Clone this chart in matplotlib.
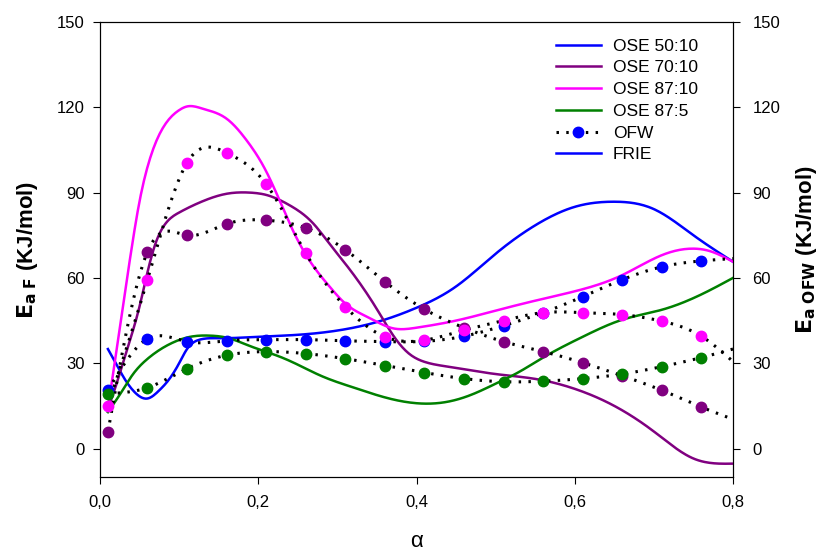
import numpy as np
import matplotlib
matplotlib.use("Agg")
import matplotlib.pyplot as plt
from matplotlib.lines import Line2D

plt.rcParams['font.family'] = ['Liberation Sans', 'DejaVu Sans']

# ---------------- data ----------------
# OSE model curves
x_ose5010 = [0.01, 0.02, 0.03, 0.045, 0.06, 0.075, 0.085, 0.10, 0.11, 0.126, 0.15, 0.20, 0.25, 0.30,
             0.35, 0.40, 0.45, 0.50, 0.55, 0.60, 0.65, 0.70, 0.75, 0.80]
y_ose5010 = [35.0, 30.0, 25.0, 19.5, 17.6, 20.5, 23.5, 30.0, 35.0, 38.3, 38.8, 39.3, 40.0, 41.5,
             44.5, 49.5, 57.0, 68.5, 78.5, 85.0, 86.8, 84.2, 75.0, 65.7]

x_ose7010 = [0.01, 0.02, 0.03, 0.04, 0.05, 0.06, 0.07, 0.08, 0.10, 0.13, 0.16, 0.19, 0.21, 0.24,
             0.27, 0.29, 0.31, 0.33, 0.35, 0.37, 0.39, 0.41, 0.44, 0.50, 0.55, 0.60, 0.65, 0.70,
             0.75, 0.77, 0.80]
y_ose7010 = [14.0, 22.0, 31.0, 40.0, 50.0, 62.0, 72.0, 78.0, 83.0, 87.0, 89.6, 90.0, 89.2, 85.5,
             79.0, 72.0, 65.0, 57.5, 49.0, 40.0, 33.5, 30.5, 28.8, 26.2, 24.5, 21.0, 15.0, 6.0,
             -3.5, -5.0, -5.3]

x_ose8710 = [0.01, 0.02, 0.03, 0.04, 0.05, 0.06, 0.08, 0.10, 0.11, 0.13, 0.16, 0.185, 0.21, 0.225,
             0.245, 0.27, 0.29, 0.31, 0.34, 0.37, 0.40, 0.45, 0.50, 0.55, 0.60, 0.66, 0.71, 0.75,
             0.77, 0.80]
y_ose8710 = [14.0, 33.0, 52.0, 70.5, 87.0, 99.0, 113.0, 119.0, 120.3, 119.5, 116.0, 108.5, 97.5,
             88.5, 76.0, 64.0, 57.0, 51.0, 46.0, 42.3, 42.5, 45.0, 48.5, 52.0, 55.3, 61.0, 68.0,
             70.3, 69.5, 65.7]

x_ose875 = [0.01, 0.029, 0.04, 0.059, 0.09, 0.114, 0.14, 0.16, 0.19, 0.23, 0.25, 0.28, 0.32, 0.36,
            0.41, 0.44, 0.47, 0.50, 0.53, 0.56, 0.61, 0.66, 0.71, 0.76, 0.80]
y_ose875 = [12.8, 20.7, 25.5, 31.3, 37.0, 39.3, 39.7, 39.0, 36.0, 32.0, 29.5, 25.5, 21.5, 18.0,
            15.8, 16.5, 19.0, 22.8, 27.0, 32.0, 39.3, 45.3, 48.8, 54.2, 60.0]

# OFW points (right axis)
x_ofw = [0.01, 0.06, 0.11, 0.16, 0.21, 0.26, 0.31, 0.36, 0.41, 0.46, 0.51, 0.56, 0.61, 0.66, 0.71, 0.76]
ofw_5010 = [20.5, 38.6, 37.6, 37.9, 38.3, 38.3, 37.9, 37.6, 37.7, 39.5, 43.2, 47.8, 53.4, 59.4, 63.9, 66.0]
ofw_7010 = [5.8, 69.2, 75.0, 79.0, 80.3, 77.6, 69.9, 58.7, 49.0, 42.5, 37.6, 34.1, 30.2, 25.6, 20.5, 14.6]
ofw_8710 = [15.1, 59.4, 100.5, 104.0, 93.0, 68.7, 49.9, 39.3, 38.1, 41.6, 45.0, 47.8, 47.8, 47.1, 44.8, 39.5]
ofw_875 = [19.3, 21.4, 28.1, 32.8, 34.1, 33.4, 31.6, 29.2, 26.7, 24.6, 23.5, 23.7, 24.6, 26.2, 28.8, 32.0]
# dotted OFW trend lines end at alpha = 0.8
x_ofw_end = 0.8
ofw_end = {'5010': 66.8, '7010': 10.3, '8710': 30.6, '875': 35.0}

legend_labels = ['OSE 50:10', 'OSE 70:10', 'OSE 87:10', 'OSE 87:5', 'OFW', 'FRIE']
xticks = [0.0, 0.2, 0.4, 0.6, 0.8]
xticklabels = ['0,0', '0,2', '0,4', '0,6', '0,8']
yticks = [0, 30, 60, 90, 120, 150]

# ---------------- helpers ----------------
def natural_spline(x, y, n=400):
    x = np.asarray(x, float); y = np.asarray(y, float)
    k = len(x)
    h = np.diff(x)
    A = np.zeros((k, k)); b = np.zeros(k)
    A[0, 0] = 1; A[-1, -1] = 1
    for i in range(1, k - 1):
        A[i, i - 1] = h[i - 1]
        A[i, i] = 2 * (h[i - 1] + h[i])
        A[i, i + 1] = h[i]
        b[i] = 3 * ((y[i + 1] - y[i]) / h[i] - (y[i] - y[i - 1]) / h[i - 1])
    c = np.linalg.solve(A, b)
    bb = (np.diff(y) / h) - h * (2 * c[:-1] + c[1:]) / 3
    d = np.diff(c) / (3 * h)
    xs = np.linspace(x[0], x[-1], n)
    idx = np.clip(np.searchsorted(x, xs) - 1, 0, k - 2)
    dx = xs - x[idx]
    ys = y[idx] + bb[idx] * dx + c[idx] * dx ** 2 + d[idx] * dx ** 3
    return xs, ys

# ---------------- figure ----------------
fig = plt.figure(figsize=(8.19, 5.51), dpi=100)
ax = fig.add_axes([100 / 819, 1 - 477 / 551, 633 / 819, 455 / 551])

c_blue = '#0000FF'; c_purple = '#800080'; c_mag = '#FF00FF'; c_green = '#008000'
lw = 1.8
dot_style = (0, (0.8, 2.4))

for xs_, ys_, col in [(x_ose5010, y_ose5010, c_blue), (x_ose7010, y_ose7010, c_purple),
                      (x_ose8710, y_ose8710, c_mag), (x_ose875, y_ose875, c_green)]:
    sx, sy = natural_spline(xs_, ys_)
    ax.plot(sx, sy, color=col, lw=lw, zorder=3)

ax2 = ax.twinx()
for key, vals, col in [('5010', ofw_5010, c_blue), ('7010', ofw_7010, c_purple),
                       ('8710', ofw_8710, c_mag), ('875', ofw_875, c_green)]:
    sx, sy = natural_spline(x_ofw + [x_ofw_end], vals + [ofw_end[key]])
    ax2.plot(sx, sy, color='black', lw=2.2, linestyle=dot_style, zorder=4)
    ax2.plot(x_ofw, vals, linestyle='none', marker='o', ms=7.5, color=col, mec=col, zorder=5)

for a in (ax, ax2):
    a.set_xlim(0, 0.8)
    a.set_ylim(-10, 150)
    a.set_yticks(yticks)
    a.tick_params(labelsize=12, direction='out', length=5, width=0.8)
ax.tick_params(axis='x', pad=8)
ax.tick_params(axis='y', pad=6)
ax2.tick_params(axis='y', pad=9)
ax.set_xticks(xticks)
ax.set_xticklabels(xticklabels)
ax.set_yticklabels([str(v) for v in yticks])
ax2.set_yticklabels([str(v) for v in yticks])

ax.set_xlabel('α', fontsize=16, labelpad=15)
ax.set_ylabel(r'$\mathbf{E}_{\mathbf{a\ F}}$ (KJ/mol)', fontsize=16, fontweight='bold', labelpad=12)
ax2.set_ylabel(r'$\mathbf{E}_{\mathbf{a\ OFW}}$ (KJ/mol)', fontsize=16, fontweight='bold', labelpad=10)

handles = [Line2D([], [], color=c_blue, lw=lw),
           Line2D([], [], color=c_purple, lw=lw),
           Line2D([], [], color=c_mag, lw=lw),
           Line2D([], [], color=c_green, lw=lw),
           Line2D([], [], color='black', lw=2.2, linestyle=dot_style, marker='o', ms=7.5,
                  mfc=c_blue, mec=c_blue),
           Line2D([], [], color=c_blue, lw=lw)]
ax2.legend(handles, legend_labels, loc='upper left', bbox_to_anchor=(0.695, 0.998), frameon=False,
           fontsize=12.5, handlelength=2.6, labelspacing=0.38, handletextpad=0.7)

fig.savefig('out.png', dpi=100)
